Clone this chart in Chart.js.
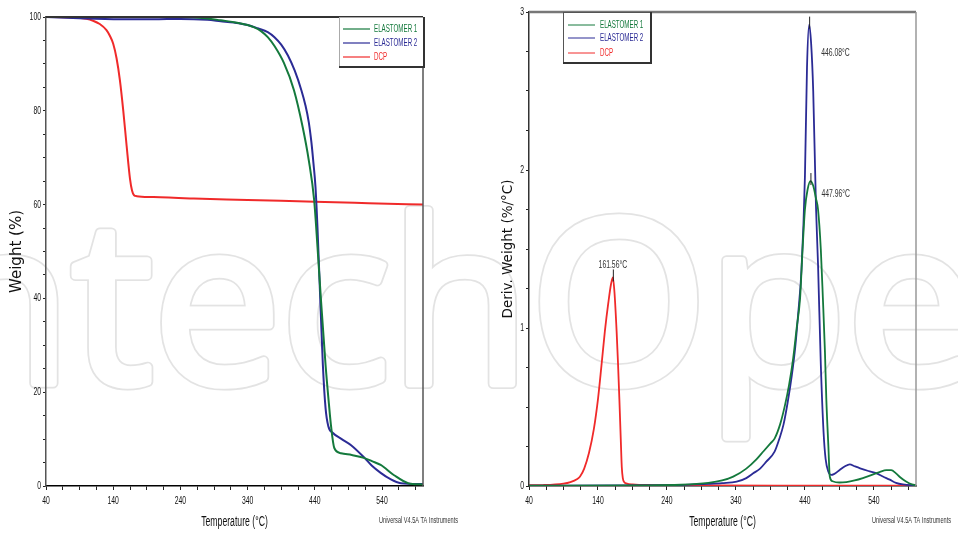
<!DOCTYPE html>
<html>
<head>
<meta charset="utf-8">
<script src="https://cdn.jsdelivr.net/npm/chart.js@4.4.1/dist/chart.umd.min.js"></script>
<style>
  body{margin:0;background:#fff;}
  #wrap{position:relative;width:958px;height:535px;overflow:hidden;}
  canvas{position:absolute;top:0;}
  #mark{left:0;}
  #tga{left:0;}
  #dtg{left:480px;}
</style>
</head>
<body>
<div id="wrap">
<canvas id="mark" width="958" height="535"></canvas>
<canvas id="tga" width="480" height="535"></canvas>
<canvas id="dtg" width="478" height="535"></canvas>
</div>
<script>
// ---- DATA ----
const seriesNames = ['ELASTOMER 1', 'ELASTOMER 2', 'DCP'];
const tempTicks = [40, 140, 240, 340, 440, 540];
const weightTicks = [0, 20, 40, 60, 80, 100];
const derivTicks = [0, 1, 2, 3];

// TGA: weight (%) vs temperature
const tgaTempE1 = [40,100,200,240,280,300,320,340,350,360,370,380,394,409,422,431,439,444,449,456,461,464,469,479,495,513,525,538,558,579,601];
const tgaE1     = [100,100,100,100,99.7,99.3,98.9,98.3,97.8,97,95.7,93.8,90.2,84.4,76.5,69.5,61,51,40,25.8,17.5,13,8.1,7,6.6,6,5.3,4.5,2.3,0.6,0.3];
const tgaTempE2 = [40,100,160,200,240,280,300,320,340,355,370,380,390,400,410,420,426,431,435,438,441,444,447,452,456,460,467,480,494,514,525,538,552,568,601];
const tgaE2     = [100,99.7,99.5,99.5,99.6,99.4,99.1,98.8,98.3,97.6,96.8,95.7,94.1,91.8,88.6,84.4,81.2,77.6,73.2,68.8,63.8,55,44,25.8,16.6,12.8,11.3,10,8.7,6,4.3,2.8,1.5,0.6,0.4];
const tgaTempDCP = [40,80,100,110,120,130,135,140,145,150,155,160,165,168,171,175,200,260,340,440,520,601];
const tgaDCP     = [100,99.9,99.6,99.2,98.5,97.2,96,94.3,91.2,86.5,80,72.5,65.5,63,62,61.8,61.6,61.3,61,60.6,60.3,60];

// DTG: deriv. weight (%/°C) vs temperature
const dtgTempE1 = [40,200,260,300,320,336,355,370,380,390,396,404,411,417,423,428,433,436,440,444,447.96,452,456,459,463,466,469,471,474,476,480,490,500,512,524,537,549,558,565,572,578,586,595,601];
const dtgE1     = [0.002,0.004,0.008,0.02,0.035,0.059,0.11,0.17,0.22,0.27,0.30,0.39,0.51,0.64,0.81,1.0,1.19,1.45,1.75,1.88,1.93,1.9,1.82,1.75,1.5,1.19,0.85,0.55,0.25,0.06,0.03,0.022,0.025,0.035,0.05,0.07,0.09,0.1,0.1,0.08,0.055,0.03,0.01,0.005];
const dtgTempE2 = [40,260,300,320,341,355,365,375,384,396,403,409,415,421,426,430,435,440,443,446.08,449,452,456,459,463,467,470,474,478,482,490,498,505,512,520,532,544,553,563,572,582,601];
const dtgE2     = [0.002,0.006,0.013,0.018,0.027,0.05,0.08,0.11,0.154,0.217,0.3,0.39,0.53,0.70,0.88,1.08,1.37,1.96,2.65,2.92,2.8,2.5,1.77,1.4,0.77,0.34,0.17,0.09,0.07,0.075,0.1,0.125,0.137,0.125,0.112,0.095,0.08,0.06,0.04,0.02,0.01,0.004];
const dtgTempDCP = [40,60,90,100,110,114,120,127,134,140,145,150,155,159,161.56,164,167,169,171,173,174.5,176,178,182,190,220,300,400,601];
const dtgDCP     = [0.005,0.006,0.015,0.025,0.045,0.06,0.11,0.21,0.36,0.55,0.76,0.98,1.16,1.28,1.32,1.22,0.98,0.78,0.55,0.3,0.12,0.05,0.025,0.015,0.01,0.006,0.004,0.003,0.003];

// peak labels (DTG)
const peakTemps = [447.96, 446.08, 161.56];
const peakVals  = [1.93, 2.92, 1.32];

const colors = ['#14793c', '#2b2b95', '#f02a2a'];
const T_MIN = 40, T_MAX = 601;

// squeeze the narrow instrument font (anything set in "Arial")
const SQUEEZE = 0.62;
const rawFillText = CanvasRenderingContext2D.prototype.fillText;
CanvasRenderingContext2D.prototype.fillText = function(text, x, y, maxWidth){
  if (this.font.indexOf('Arial') === -1) {
    return maxWidth === undefined ? rawFillText.call(this, text, x, y) : rawFillText.call(this, text, x, y, maxWidth);
  }
  this.save();
  this.translate(x, y);
  this.scale(SQUEEZE, 1);
  rawFillText.call(this, text, 0, 0);
  this.restore();
};

// faint outlined watermark behind everything
(function(){
  const mk = document.getElementById('mark').getContext('2d');
  mk.font = '228px "Open Sans"';
  mk.lineJoin = 'round';
  const x0 = 530 - mk.measureText('Intech').width;
  mk.strokeStyle = '#e3e3e3'; mk.lineWidth = 11;
  mk.strokeText('IntechOpen', x0, 383);
  mk.strokeStyle = '#fff'; mk.lineWidth = 7.5;
  mk.strokeText('IntechOpen', x0, 383);
  mk.fillStyle = '#fff';
  mk.fillText('IntechOpen', x0, 383);
})();

const pts = (xs, ys) => xs.map((t, i) => ({x: t, y: ys[i]}));

// frame, legend box, peak labels, footer
const decor = {
  id: 'decor',
  afterDraw(chart, args, o) {
    const {ctx, chartArea: a} = chart;
    const xs = chart.scales.x, ys = chart.scales.y;
    ctx.save();
    ctx.lineWidth = o.topWidth; ctx.strokeStyle = o.topColor;
    ctx.beginPath(); ctx.moveTo(a.left, a.top); ctx.lineTo(a.right, a.top); ctx.stroke();
    ctx.lineWidth = 1.5; ctx.strokeStyle = o.rightColor;
    ctx.beginPath(); ctx.moveTo(a.right, a.top); ctx.lineTo(a.right, a.bottom); ctx.stroke();

    // legend
    const L = o.legend;
    const bx = L.right ? a.right - L.w : a.left + L.dx;
    const by = a.top;
    ctx.fillStyle = '#fff';
    ctx.fillRect(bx, by, L.w, L.h);
    ctx.lineWidth = 1; ctx.strokeStyle = L.edge;
    ctx.strokeRect(bx + 0.5, by + 0.5, L.w, L.h);
    ctx.lineWidth = 2; ctx.strokeStyle = '#333';
    ctx.beginPath();
    ctx.moveTo(bx, by + L.h + 1); ctx.lineTo(bx + L.w + 1, by + L.h + 1); ctx.lineTo(bx + L.w + 1, by);
    ctx.stroke();
    ctx.font = '10px Arial';
    ctx.textAlign = 'left'; ctx.textBaseline = 'middle';
    chart.data.datasets.forEach((ds, i) => {
      const ry = by + L.rows[i];
      ctx.strokeStyle = ds.borderColor; ctx.lineWidth = L.lw;
      ctx.beginPath(); ctx.moveTo(bx + L.x1, ry); ctx.lineTo(bx + L.x2, ry); ctx.stroke();
      ctx.fillStyle = ds.borderColor;
      ctx.fillText(ds.label, bx + L.tx, ry);
    });

    // peak labels
    if (o.peaks) {
      ctx.font = '11px Arial';
      o.peaks.forEach((p, i) => {
        const px = xs.getPixelForValue(peakTemps[i]);
        const py = ys.getPixelForValue(peakVals[i]);
        ctx.strokeStyle = '#222'; ctx.lineWidth = 1;
        ctx.beginPath(); ctx.moveTo(px + 0.5, py - 8); ctx.lineTo(px + 0.5, py + 4); ctx.stroke();
        ctx.fillStyle = '#333';
        ctx.textAlign = p.align;
        ctx.fillText(peakTemps[i].toFixed(2) + '°C', px + p.dx, py + p.dy);
      });
    }

    ctx.font = '9px Arial';
    ctx.fillStyle = '#333';
    ctx.textAlign = 'left'; ctx.textBaseline = 'middle';
    ctx.fillText('Universal V4.5A TA Instruments', a.right - 44, 521);
    ctx.restore();
  }
};

function xScale() {
  return {
    type: 'linear', min: T_MIN, max: T_MAX,
    afterBuildTicks(s) {
      const t = [];
      for (let v = T_MIN; v <= T_MAX; v += 25) t.push({value: v});
      s.ticks = t;
    },
    afterFit(s) { s.height = 49; },
    ticks: {
      autoSkip: false, maxRotation: 0, padding: 4, color: '#111',
      font: {family: 'Arial', size: 11},
      callback: v => tempTicks.includes(v) ? String(v) : ''
    },
    grid: {drawOnChartArea: false, tickLength: 4, tickColor: '#222'},
    border: {color: '#000', width: 1.5},
    title: {display: true, text: 'Temperature (°C)', color: '#111',
            font: {family: 'Arial', size: 14}, padding: {top: 0, bottom: 4}}
  };
}

function makeChart(id, o) {
  return new Chart(document.getElementById(id), {
    type: 'line',
    data: {
      datasets: o.series.map((d, i) => ({
        label: seriesNames[i],
        data: d,
        borderColor: colors[i],
        borderWidth: o.lineWidth,
        pointRadius: 0,
        cubicInterpolationMode: 'monotone',
        fill: false
      }))
    },
    options: {
      responsive: false, animation: false, devicePixelRatio: 1,
      layout: {padding: o.padding},
      plugins: {legend: {display: false}, tooltip: {enabled: false}, decor: o.decor},
      scales: {
        x: xScale(),
        y: {
          min: 0, max: o.yMax,
          afterFit(s) { s.width = o.yWidth; },
          ticks: {
            stepSize: o.yStep, maxTicksLimit: 100, autoSkip: false, padding: 2, color: '#111',
            font: {family: 'Arial', size: 11},
            callback: v => o.yLabels.includes(v) ? String(v) : ''
          },
          grid: {drawOnChartArea: false, tickLength: 3, tickColor: '#222'},
          border: {color: o.yBorder, width: 1.5},
          title: {display: true, text: o.yTitle, color: '#111',
                  font: {family: 'DejaVu Sans', size: o.yTitleSize}, padding: {top: o.yTitlePad, bottom: 0}}
        }
      }
    },
    plugins: [decor]
  });
}

makeChart('tga', {
  series: [pts(tgaTempE1, tgaE1), pts(tgaTempE2, tgaE2), pts(tgaTempDCP, tgaDCP)],
  lineWidth: 2,
  padding: {left: 0, right: 57, top: 17, bottom: 0},
  yMax: 100, yStep: 5, yLabels: weightTicks, yWidth: 46, yBorder: '#555',
  yTitle: 'Weight (%)', yTitleSize: 15, yTitlePad: 8,
  decor: {
    topColor: '#333', topWidth: 2, rightColor: '#555',
    legend: {right: true, w: 84, h: 49, rows: [12, 26, 40], x1: 4, x2: 31, tx: 35, lw: 1.2, edge: '#aaa'}
  }
});

makeChart('dtg', {
  series: [pts(dtgTempE1, dtgE1), pts(dtgTempE2, dtgE2), pts(dtgTempDCP, dtgDCP)],
  lineWidth: 1.8,
  padding: {left: 0, right: 42, top: 12, bottom: 0},
  yMax: 3, yStep: 0.25, yLabels: derivTicks, yWidth: 49, yBorder: '#333',
  yTitle: 'Deriv. Weight (%/°C)', yTitleSize: 13.5, yTitlePad: 20,
  decor: {
    topColor: '#777', topWidth: 2.5, rightColor: '#999',
    legend: {right: false, dx: 34, w: 87, h: 50, rows: [13, 26, 41], x1: 5, x2: 32, tx: 37, lw: 1, edge: '#555'},
    peaks: [
      {dx: 11, dy: 13, align: 'left'},
      {dx: 12, dy: 28, align: 'left'},
      {dx: 0, dy: -12, align: 'center'}
    ]
  }
});
</script>
</body>
</html>
